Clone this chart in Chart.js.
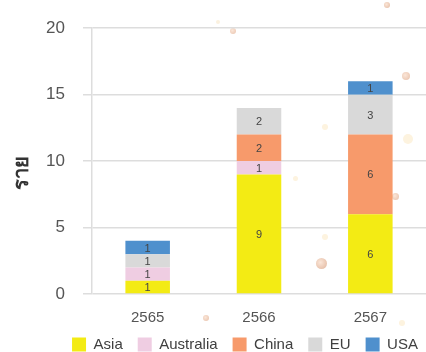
<!DOCTYPE html>
<html>
<head>
<meta charset="utf-8">
<script src="https://cdn.jsdelivr.net/npm/chart.js@4"></script>
<style>
  html, body { margin: 0; padding: 0; background: #fff; }
  #wrap { position: relative; width: 426px; height: 352px; overflow: hidden; }
  .dot { position: absolute; border-radius: 50%; pointer-events: none; }
  canvas { position: absolute; left: 0; top: 0; }
</style>
</head>
<body>
<div id="wrap">
  <div class="dot" style="left:230px;top:28px;width:6px;height:6px;background:radial-gradient(circle at 40% 40%,#fbe6d8,#e8c3ad);"></div>
  <div class="dot" style="left:216px;top:20px;width:4px;height:4px;background:#fbf1df;"></div>
  <div class="dot" style="left:384px;top:2px;width:6px;height:6px;background:radial-gradient(circle at 40% 40%,#fbe6d8,#e2b9a0);"></div>
  <div class="dot" style="left:402px;top:72px;width:8px;height:8px;background:radial-gradient(circle at 40% 40%,#fbe6d8,#e6bfa8);"></div>
  <div class="dot" style="left:403px;top:134px;width:10px;height:10px;background:#fdf3df;"></div>
  <div class="dot" style="left:322px;top:124px;width:6px;height:6px;background:#fdf3df;"></div>
  <div class="dot" style="left:293px;top:176px;width:5px;height:5px;background:#fdf3df;"></div>
  <div class="dot" style="left:392px;top:193px;width:7px;height:7px;background:radial-gradient(circle at 40% 40%,#fbe6d8,#e6bfa8);"></div>
  <div class="dot" style="left:322px;top:234px;width:6px;height:6px;background:#fdf3df;"></div>
  <div class="dot" style="left:316px;top:258px;width:11px;height:11px;background:radial-gradient(circle at 40% 40%,#fbe6d8,#e0b59c);"></div>
  <div class="dot" style="left:203px;top:315px;width:6px;height:6px;background:radial-gradient(circle at 40% 40%,#fbe6d8,#e6bfa8);"></div>
  <div class="dot" style="left:399px;top:320px;width:6px;height:6px;background:#fdf3df;"></div>
  <canvas id="c" width="426" height="352"></canvas>
</div>
<script>
const categories = ["2565", "2566", "2567"];
const seriesNames = ["Asia", "Australia", "China", "EU", "USA"];
const asia = [1, 9, 6];
const australia = [1, 1, 0];
const china = [0, 2, 6];
const eu = [1, 2, 3];
const usa = [1, 0, 1];
const yTicks = [0, 5, 10, 15, 20];
const yTitle = "ราย";

const colors = ["#F3EB14", "#EFCDE2", "#F79A6B", "#D9D9D9", "#4F90CD"];
const values = [asia, australia, china, eu, usa];
const FONT = "'Liberation Sans', Arial, sans-serif";

const helperPlugin = {
  id: "helper",
  afterLayout(chart) {
    const lg = chart.legend;
    if (lg) { lg.left += 32; lg.right += 32; lg.top += 10; lg.bottom += 10; }
    const xs = chart.scales.x;
    if (xs) { xs.bottom = chart.height; }
  },
  afterDraw(chart) {
    const ctx = chart.ctx;
    ctx.save();
    ctx.translate(22, chart.height / 2 - 3);
    ctx.rotate(-Math.PI / 2);
    ctx.font = "bold 20px 'Noto Sans', 'DejaVu Sans', sans-serif";
    ctx.fillStyle = "#333";
    ctx.textAlign = "center";
    ctx.textBaseline = "middle";
    ctx.fillText(yTitle, 0, 0);
    ctx.restore();
  },
  afterDatasetsDraw(chart) {
    const ctx = chart.ctx;
    ctx.save();
    ctx.font = "11px " + FONT;
    ctx.fillStyle = "#444";
    ctx.textAlign = "center";
    ctx.textBaseline = "middle";
    chart.data.datasets.forEach((ds, di) => {
      const meta = chart.getDatasetMeta(di);
      meta.data.forEach((el, i) => {
        const v = ds.data[i];
        if (!v) return;
        const p = el.getProps(["x", "y", "base"], true);
        ctx.fillText(String(v), p.x, (p.y + p.base) / 2 + 1);
      });
    });
    ctx.restore();
  }
};

new Chart(document.getElementById("c"), {
  type: "bar",
  data: {
    labels: categories,
    datasets: seriesNames.map((n, i) => ({
      label: n,
      data: values[i],
      backgroundColor: colors[i],
      borderWidth: 0,
      barPercentage: 0.4,
      categoryPercentage: 1.0
    }))
  },
  options: {
    responsive: false,
    animation: false,
    devicePixelRatio: 1,
    layout: { padding: { top: 7, right: 0, left: 0, bottom: 0 } },
    plugins: {
      legend: {
        position: "bottom",
        labels: {
          boxWidth: 14,
          boxHeight: 14,
          padding: 15,
          color: "#404040",
          font: { size: 15, family: FONT }
        }
      },
      tooltip: { enabled: false }
    },
    scales: {
      x: {
        stacked: true,
        grid: { display: false, drawTicks: false },
        border: { display: false },
        ticks: { color: "#555", padding: 15, font: { size: 15, family: FONT } },
        afterFit(scale) { scale.height = 18; }
      },
      y: {
        stacked: true,
        min: 0,
        max: 20,
        afterBuildTicks(axis) { axis.ticks = yTicks.map(v => ({ value: v })); },
        afterFit(scale) { scale.width = 92; },
        grid: { color: "#dddddd", lineWidth: 1.5, tickLength: 9 },
        border: { display: true, color: "#dddddd", width: 1.5 },
        ticks: { color: "#555", padding: 18, font: { size: 17, family: FONT } }
      }
    }
  },
  plugins: [helperPlugin]
});
</script>
</body>
</html>
